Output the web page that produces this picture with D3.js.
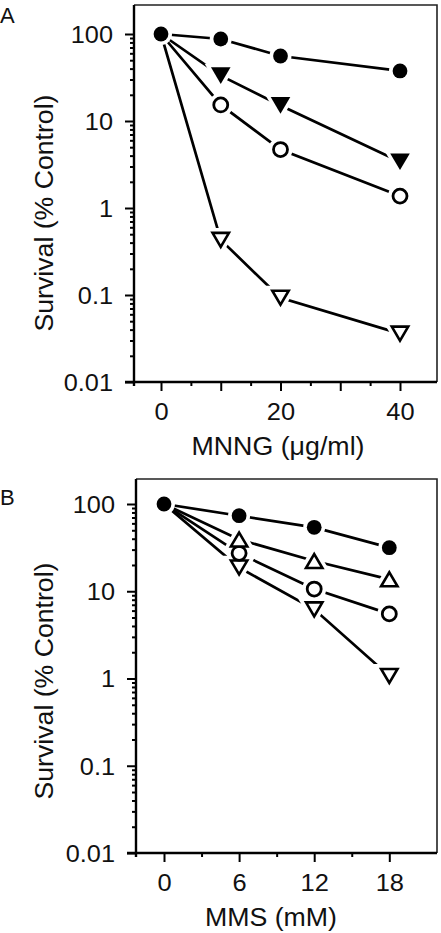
<!DOCTYPE html>
<html>
<head>
<meta charset="utf-8">
<script src="https://cdn.jsdelivr.net/npm/d3@7"></script>
<style>
  html, body { margin: 0; padding: 0; background: #fff; }
  svg { display: block; font-family: "Liberation Sans", Arial, sans-serif; }
</style>
</head>
<body>
<svg id="chart" width="441" height="933"></svg>
<script>
// ---------- Data ----------
const mnngDose = [0, 10, 20, 40];
const mnngFilledCircle = [100, 87.6, 55.9, 37.6];
const mnngFilledTriDown = [100, 33.2, 15.1, 3.4];
const mnngOpenCircle = [100, 15.3, 4.7, 1.37];
const mnngOpenTriDown = [100, 0.43, 0.093, 0.036];

const mmsDose = [0, 6, 12, 18];
const mmsFilledCircle = [100, 73.4, 54, 31.6];
const mmsOpenTriUp = [100, 39.2, 22.2, 13.7];
const mmsOpenCircle = [100, 27.2, 10.6, 5.5];
const mmsOpenTriDown = [100, 18.7, 6.2, 1.07];

const yTickValues = [100, 10, 1, 0.1, 0.01];
const yTickLabels = ["100", "10", "1", "0.1", "0.01"];
const mnngMajorTicks = [0, 10, 20, 30, 40];
const mnngMinorTicks = [5, 15, 25, 35];
const mnngLabelTicks = [0, 20, 40];
const mmsMajorTicks = [0, 6, 12, 18];
const mmsMinorTicks = [3, 9, 15];
const mmsLabelTicks = [0, 6, 12, 18];

const svg = d3.select("#chart");

function stretch(sel, sx) {
  sel.each(function () {
    const w = this.getComputedTextLength();
    d3.select(this).attr("textLength", w * sx).attr("lengthAdjust", "spacingAndGlyphs");
  });
}

function markerPath(type, s) {
  const h = s * 1.7;
  if (type === "triDown") return `M${-s},${-h / 2}L${s},${-h / 2}L0,${h / 2}Z`;
  return `M${-s},${h / 2}L${s},${h / 2}L0,${-h / 2}Z`;
}

function drawMarker(g, type, filled, cx, cy, halo) {
  const extra = halo ? 3.6 : 0;
  const fill = halo ? "#fff" : (filled ? "#000" : "#fff");
  const stroke = halo ? "#fff" : "#000";
  if (type === "circle") {
    const r = filled ? 7.4 : 7.0;
    g.append("circle").attr("cx", cx).attr("cy", cy).attr("r", r)
      .attr("fill", fill).attr("stroke", stroke)
      .attr("stroke-width", (filled ? 0 : 2.8) + extra * 2);
  } else {
    const s = filled ? 9.8 : 8.2;
    g.append("path").attr("d", markerPath(type, s))
      .attr("transform", `translate(${cx},${cy})`)
      .attr("fill", fill).attr("stroke", stroke)
      .attr("stroke-linejoin", "miter")
      .attr("stroke-width", (filled ? 0 : 2.6) + extra * 2);
  }
}

function panel(cfg) {
  const g = svg.append("g");
  const x = d3.scaleLinear().domain(cfg.xDomain).range(cfg.xRange);
  const y = d3.scaleLog().domain([0.01, 100]).range(cfg.yRange);
  const L = cfg.frame.left, T = cfg.frame.top, R = cfg.frame.right, B = cfg.frame.bottom;

  // top & right frame
  g.append("path").attr("d", `M${L},${T}L${R},${T}L${R},${B}`)
    .attr("fill", "none").attr("stroke", "#222").attr("stroke-width", 1.6);

  // y axis (major + minor ticks)
  const minorVals = [];
  [0.01, 0.1, 1, 10].forEach(d => { for (let k = 2; k <= 9; k++) minorVals.push(d * k); });
  const yAxisMinor = d3.axisLeft(y).tickValues(minorVals).tickSize(4).tickFormat("");
  const yAxisMajor = d3.axisLeft(y).tickValues(yTickValues).tickSize(9).tickPadding(12)
    .tickFormat((d, i) => yTickLabels[i]);
  const ya = g.append("g").attr("transform", `translate(${L},0)`);
  ya.append("g").call(yAxisMinor);
  ya.append("g").call(yAxisMajor);
  ya.selectAll(".domain").remove();
  ya.selectAll("line").attr("stroke", "#000").attr("stroke-width", 2);
  ya.selectAll("text").attr("fill", "#111").attr("font-size", 23)
    .attr("font-family", "Liberation Sans, Arial, sans-serif").attr("dy", "0.36em");
  stretch(ya.selectAll("text"), 1.1);
  g.append("line").attr("x1", L).attr("x2", L).attr("y1", T).attr("y2", B + 4)
    .attr("stroke", "#000").attr("stroke-width", 2.4);

  // x axis
  const xa = g.append("g").attr("transform", `translate(0,${B})`);
  xa.append("g").call(d3.axisBottom(x).tickValues(cfg.minor).tickSize(4).tickFormat(""));
  xa.append("g").call(d3.axisBottom(x).tickValues(cfg.major).tickSize(9)
    .tickFormat(d => cfg.labels.includes(d) ? String(d) : "").tickPadding(12));
  xa.selectAll(".domain").remove();
  xa.selectAll("line").attr("stroke", "#000").attr("stroke-width", 2);
  xa.selectAll("text").attr("fill", "#111").attr("font-size", 24)
    .attr("font-family", "Liberation Sans, Arial, sans-serif");
  stretch(xa.selectAll("text").filter(function () { return this.textContent !== ""; }), 1.06);
  g.append("line").attr("x1", L - 9).attr("x2", R).attr("y1", B).attr("y2", B)
    .attr("stroke", "#000").attr("stroke-width", 2.4);

  // titles
  g.append("text").attr("x", cfg.xTitlePos[0]).attr("y", cfg.xTitlePos[1])
    .attr("text-anchor", "middle").attr("font-size", 25).attr("fill", "#111")
    .attr("textLength", cfg.xTitleLen).attr("lengthAdjust", "spacingAndGlyphs")
    .text(cfg.xTitle);
  g.append("text").attr("transform", `translate(53,${cfg.yTitleY}) rotate(-90)`)
    .attr("text-anchor", "middle").attr("font-size", 26).attr("fill", "#111")
    .attr("textLength", 237).attr("lengthAdjust", "spacingAndGlyphs")
    .text("Survival (% Control)");
  g.append("text").attr("x", 0).attr("y", cfg.letterY).attr("font-size", 22)
    .attr("fill", "#111").text(cfg.letter);

  // series
  const line = d3.line().x(d => x(d[0])).y(d => y(d[1]));
  const lines = g.append("g");
  const halos = g.append("g");
  const marks = g.append("g");
  cfg.series.forEach(s => {
    const pts = cfg.dose.map((d, i) => [d, s.values[i]]);
    lines.append("path").attr("d", line(pts)).attr("fill", "none")
      .attr("stroke", "#000").attr("stroke-width", 2.7);
  });
  cfg.series.slice().reverse().forEach(s => {
    cfg.dose.forEach((d, i) => {
      if (i === 0 && !s.showControl) return;
      drawMarker(halos, s.type, s.filled, x(d), y(s.values[i]), true);
      drawMarker(marks, s.type, s.filled, x(d), y(s.values[i]), false);
    });
  });
}

panel({
  letter: "A", letterY: 23,
  xDomain: [0, 40], xRange: [161, 400], yRange: [382, 34],
  frame: { left: 134, top: 5, right: 437, bottom: 382 },
  major: mnngMajorTicks, minor: mnngMinorTicks, labels: mnngLabelTicks,
  xTitle: "MNNG (\u03bcg/ml)", xTitlePos: [278, 455], xTitleLen: 173,
  yTitleY: 213,
  dose: mnngDose,
  series: [
    { values: mnngFilledCircle, type: "circle", filled: true, showControl: true },
    { values: mnngFilledTriDown, type: "triDown", filled: true },
    { values: mnngOpenCircle, type: "circle", filled: false },
    { values: mnngOpenTriDown, type: "triDown", filled: false }
  ]
});

panel({
  letter: "B", letterY: 505,
  xDomain: [0, 18], xRange: [164, 389.3], yRange: [853, 504],
  frame: { left: 136, top: 479, right: 437, bottom: 853 },
  major: mmsMajorTicks, minor: mmsMinorTicks, labels: mmsLabelTicks,
  xTitle: "MMS (mM)", xTitlePos: [271, 926], xTitleLen: 132,
  yTitleY: 681,
  dose: mmsDose,
  series: [
    { values: mmsFilledCircle, type: "circle", filled: true, showControl: true },
    { values: mmsOpenTriUp, type: "triUp", filled: false },
    { values: mmsOpenCircle, type: "circle", filled: false },
    { values: mmsOpenTriDown, type: "triDown", filled: false }
  ]
});
</script>
</body>
</html>
